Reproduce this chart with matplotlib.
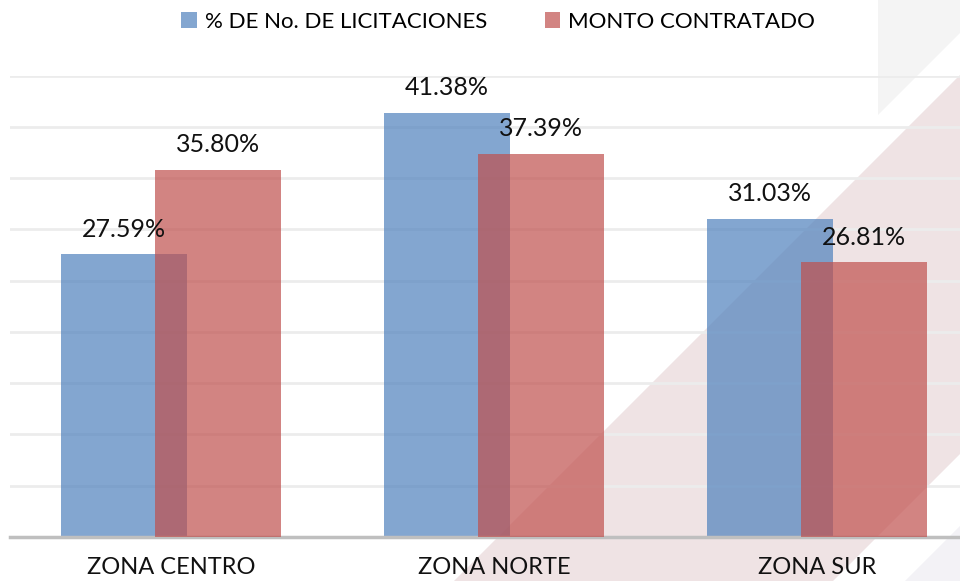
import numpy as np
import matplotlib.pyplot as plt
from matplotlib.patches import Polygon
from matplotlib import font_manager

# datos
zonas = ['ZONA CENTRO', 'ZONA NORTE', 'ZONA SUR']
licitaciones = [27.59, 41.38, 31.03]
monto = [35.80, 37.39, 26.81]
series = ['% DE No. DE LICITACIONES', 'MONTO CONTRATADO']

W, H = 960, 581
azul = '#4F81BD'
rojo = '#C0504D'

disponibles = {f.name for f in font_manager.fontManager.ttflist}
fuente = 'Lato' if 'Lato' in disponibles else 'DejaVu Sans'
plt.rcParams['font.family'] = [fuente, 'DejaVu Sans']

fig = plt.figure(figsize=(W / 100, H / 100), dpi=100)
fig.patch.set_facecolor('white')

# fondo decorativo en un eje propio, detrás de todo (coordenadas en píxeles, y hacia abajo)
fondo = fig.add_axes([0, 0, 1, 1], zorder=-1)
fondo.set_xlim(0, W)
fondo.set_ylim(H, 0)
fondo.axis('off')
fondo.add_patch(Polygon([(454, 581), (960, 75), (960, 454), (833, 581)],
                        closed=True, facecolor='#efe3e4', edgecolor='none'))
fondo.add_patch(Polygon([(878, 0), (960, 0), (960, 33), (878, 115)],
                        closed=True, facecolor='#f4f4f4', edgecolor='none'))
fondo.add_patch(Polygon([(905, 581), (960, 526), (960, 581)],
                        closed=True, facecolor='#f3f2f6', edgecolor='none'))

# ejes: izquierda 10px, base 537px, tope 75.6px
ax = fig.add_axes([10 / W, (H - 537) / H, 950 / W, (537 - 75.6) / H])
ax.patch.set_alpha(0)

x = np.arange(len(zonas))
ancho = 0.39
desp = 0.1455

b1 = ax.bar(x - desp, licitaciones, ancho, color=azul, alpha=0.7,
            label=series[0], zorder=2)
b2 = ax.bar(x + desp, monto, ancho, color=rojo, alpha=0.7,
            label=series[1], zorder=3)

for barras, valores in [(b1, licitaciones), (b2, monto)]:
    for barra, v in zip(barras, valores):
        ax.annotate(f'{v:.2f}%', (barra.get_x() + barra.get_width() / 2, v),
                    xytext=(0, 18), textcoords='offset points',
                    ha='center', va='center', fontsize=18, color='#111111',
                    zorder=5)

ax.set_xlim((10 - 171) / 323, (960 - 171) / 323)
ax.set_ylim(0, 45)
ax.set_yticks(np.arange(5, 46, 5))
ax.yaxis.grid(True, color='#ececec', linewidth=2)
ax.set_axisbelow(True)
ax.tick_params(axis='y', left=False, labelleft=False)
ax.tick_params(axis='x', bottom=False, pad=11)
ax.set_xticks(x)
ax.set_xticklabels(zonas, fontsize=17, color='#111111')

for lado in ['top', 'right', 'left']:
    ax.spines[lado].set_visible(False)
ax.spines['bottom'].set_color('#bfbfbf')
ax.spines['bottom'].set_linewidth(2.5)

fig.legend(handles=[b1, b2], labels=series, loc='center',
           bbox_to_anchor=(498 / W, 1 - 22 / H), ncol=2, frameon=False,
           prop={'size': 16}, handlelength=0.7, handleheight=0.7,
           handletextpad=0.35, columnspacing=2.6)

fig.savefig('out.png', dpi=100)
